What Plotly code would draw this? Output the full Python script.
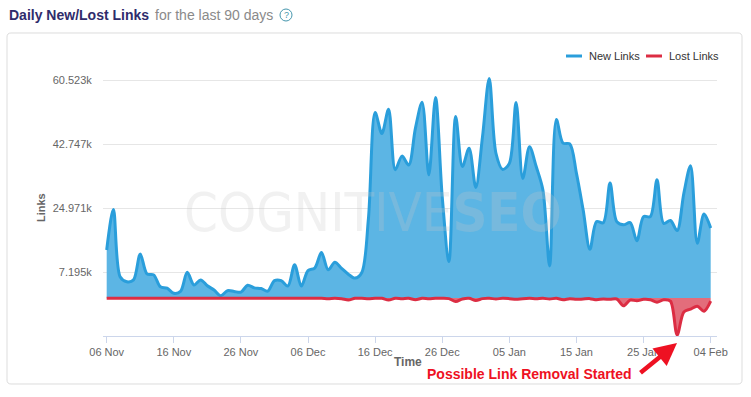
import pandas as pd
import plotly.graph_objects as go

# ---------------- data ----------------
dates = pd.date_range("2016-11-06", periods=91, freq="D")

new_links = [
    13300, 24600, 5900, 4500, 5000, 12200, 6700, 6400, 3100, 2700,
    1300, 1800, 7100, 3600, 5000, 3400, 2200, 600, 2000, 1800,
    1600, 3500, 2800, 2600, 1900, 4800, 4800, 3300, 9200, 3300,
    7600, 8300, 12600, 7800, 9900, 8200, 6600, 5500, 7000, 22000,
    51500, 45700, 52400, 35600, 39400, 36900, 47100, 54400, 34200, 55700,
    28000, 10100, 50400, 36500, 41600, 30700, 44800, 61000, 40200, 35700,
    37400, 54300, 33200, 42000, 36500, 30000, 8900, 49600, 43000, 42800,
    34600, 24400, 13500, 21200, 20900, 31900, 21200, 20300, 20900, 15900,
    22600, 22600, 32800, 20700, 21500, 18700, 29100, 36700, 15200, 23300,
    19400,
]

lost_links = [
    -100, -100, -100, -100, -100, -100, -100, -100, -100, -100,
    -100, -100, -100, -100, -100, -100, -100, -100, -100, -100,
    -100, -100, -100, -100, -100, -100, -100, -100, -100, -100,
    -100, -100, -100, -200, -100, -200, -600, -100, -100, -200,
    -100, -100, -600, -100, -200, -100, -500, -100, -200, -100,
    -100, -200, -1000, -300, -100, -700, -200, -100, -300, -100,
    -200, -400, -200, -100, -200, -100, -300, -100, -500, -200,
    -400, -300, -200, -500, -300, -400, -300, -2200, -600, -800,
    -400, -500, -1200, -500, -900, -10300, -3900, -3100, -2300, -3700,
    -900,
]

y_tick_vals = [7195, 24971, 42747, 60523]
y_tick_text = ["7.195k", "24.971k", "42.747k", "60.523k"]
x_tick_vals = pd.date_range("2016-11-06", periods=10, freq="10D")

series_names = ["New Links", "Lost Links"]

# ---------------- layout helpers ----------------
W, H = 751, 397
L, R, T, B = 103, 717, 62, 336   # plot area in pixels


def px(x):
    return (x - L) / (R - L)


def py(y):
    return (B - y) / (B - T)


FONT = "Liberation Sans, Arial, Helvetica, sans-serif"
BLUE_LINE = "#2a9edb"
BLUE_FILL = "#5cb5e4"
RED_LINE = "#dc2d43"
RED_FILL = "rgba(214,40,60,0.68)"

fig = go.Figure()
fig.add_trace(go.Scatter(
    x=dates, y=new_links, name=series_names[0], mode="lines",
    line=dict(color=BLUE_LINE, width=3, shape="spline", smoothing=0.9),
    fill="tozeroy", fillcolor=BLUE_FILL, showlegend=False,
))
fig.add_trace(go.Scatter(
    x=dates, y=lost_links, name=series_names[1], mode="lines",
    line=dict(color=RED_LINE, width=3, shape="spline", smoothing=0.9),
    fill="tozeroy", fillcolor=RED_FILL, showlegend=False,
))

day = pd.Timedelta(days=1)
x0 = dates[0] - 0.55 * day
x1 = dates[0] + 90.94 * day

fig.update_layout(
    width=W, height=H,
    margin=dict(l=L, r=W - R, t=T, b=H - B, pad=0),
    paper_bgcolor="white", plot_bgcolor="white",
    font=dict(family=FONT, size=11, color="#666666"),
    showlegend=False,
    xaxis=dict(
        type="date", range=[x0, x1],
        tickvals=list(x_tick_vals), tickformat="%d %b",
        ticks="outside", ticklen=6, tickcolor="#ccd6eb", tickwidth=1,
        showline=True, linecolor="#ccd6eb", linewidth=1,
        showgrid=False, zeroline=False,
        tickfont=dict(size=11, color="#666666", family=FONT),
    ),
    yaxis=dict(
        range=[-10581, 65550],
        tickvals=y_tick_vals, ticktext=y_tick_text,
        showgrid=True, gridcolor="#e6e6e6", gridwidth=1,
        zeroline=False, showline=False,
        ticks="outside", ticklen=8, tickcolor="rgba(0,0,0,0)",
        tickfont=dict(size=11, color="#666666", family=FONT),
    ),
)

# rounded box around the chart
bx0, bx1, by0, by1, rr = 7, 742, 33, 384, 4


def P(x, y):
    return f"{px(x):.5f},{py(y):.5f}"


box_path = (
    f"M {P(bx0 + rr, by0)} L {P(bx1 - rr, by0)} Q {P(bx1, by0)} {P(bx1, by0 + rr)} "
    f"L {P(bx1, by1 - rr)} Q {P(bx1, by1)} {P(bx1 - rr, by1)} "
    f"L {P(bx0 + rr, by1)} Q {P(bx0, by1)} {P(bx0, by1 - rr)} "
    f"L {P(bx0, by0 + rr)} Q {P(bx0, by0)} {P(bx0 + rr, by0)} Z"
)
shapes = [
    dict(type="path", xref="paper", yref="paper", path=box_path,
         line=dict(color="#dddddd", width=1), layer="below"),
    # legend swatches
    dict(type="line", xref="paper", yref="paper", x0=px(566), x1=px(582),
         y0=py(56), y1=py(56), line=dict(color=BLUE_LINE, width=3)),
    dict(type="line", xref="paper", yref="paper", x0=px(646), x1=px(662),
         y0=py(56), y1=py(56), line=dict(color=RED_LINE, width=3)),
    # help icon circle
    dict(type="circle", xref="paper", yref="paper", x0=px(280), x1=px(292),
         y0=py(9), y1=py(21), line=dict(color="#4596ad", width=1)),
]

annotations = [
    dict(text="<b>Daily New/Lost Links</b>", x=px(7), y=py(14.5), xref="paper", yref="paper",
         xanchor="left", yanchor="middle", showarrow=False,
         font=dict(size=14, color="#2f2c6c", family=FONT)),
    dict(text="for the last 90 days", x=px(153), y=py(14.5), xref="paper", yref="paper",
         xanchor="left", yanchor="middle", showarrow=False,
         font=dict(size=14, color="#8a8a8a", family=FONT)),
    dict(text="?", x=px(286), y=py(15), xref="paper", yref="paper",
         xanchor="center", yanchor="middle", showarrow=False,
         font=dict(size=9, color="#4596ad", family=FONT)),
    dict(text=series_names[0], x=px(587), y=py(56), xref="paper", yref="paper",
         xanchor="left", yanchor="middle", showarrow=False,
         font=dict(size=11, color="#333333", family=FONT)),
    dict(text=series_names[1], x=px(667), y=py(56), xref="paper", yref="paper",
         xanchor="left", yanchor="middle", showarrow=False,
         font=dict(size=11, color="#333333", family=FONT)),
    dict(text="<b>Links</b>", x=px(41), y=py(208), xref="paper", yref="paper",
         xanchor="center", yanchor="middle", textangle=-90, showarrow=False,
         font=dict(size=11, color="#666666", family=FONT)),
    dict(text="<b>Time</b>", x=px(408), y=py(362), xref="paper", yref="paper",
         xanchor="center", yanchor="middle", showarrow=False,
         font=dict(size=12, color="#666666", family=FONT)),
    dict(text="COGNITIVE<b>SEO</b>", x=px(373), y=py(212), xref="paper", yref="paper",
         xanchor="center", yanchor="middle", showarrow=False,
         font=dict(size=54, color="rgba(200,200,200,0.25)",
                   family="Liberation Sans Narrow, DejaVu Sans Condensed, sans-serif")),
    dict(text="<b>Possible Link Removal Started</b>", x=px(529), y=py(374), xref="paper", yref="paper",
         xanchor="center", yanchor="middle", showarrow=False,
         font=dict(size=14, color="#ee1122", family=FONT)),
    dict(text="", x=px(677), y=py(343), xref="paper", yref="paper",
         showarrow=True, ax=-38, ay=31, arrowhead=2, arrowsize=1, arrowwidth=4.5,
         arrowcolor="#ee1122"),
]

fig.update_layout(shapes=shapes, annotations=annotations)
fig.write_html(
    "out.html",
    config={"displayModeBar": False},
    post_script="document.body.style.margin='0';document.body.style.overflow='hidden';",
)
